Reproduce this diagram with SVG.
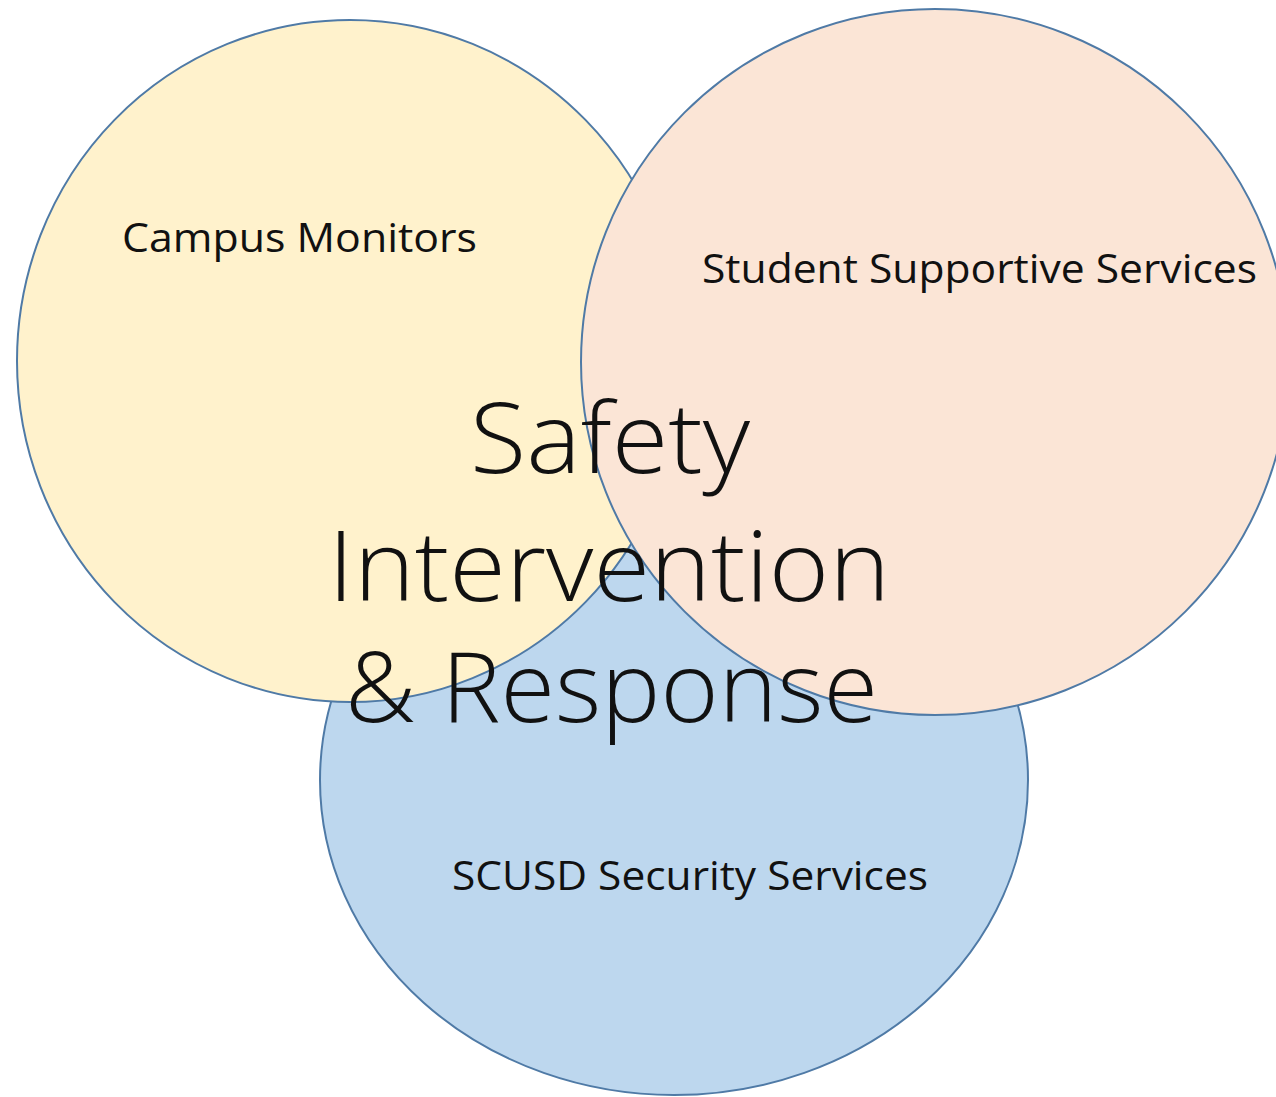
<svg xmlns="http://www.w3.org/2000/svg" width="1276" height="1097" viewBox="0 0 1276 1097">
  <style>
    .c { stroke: #4f7aa6; stroke-width: 2; }
    .lbl { font-family: "Open Sans", "Liberation Sans", sans-serif; font-size: 40px; fill: #111; }
    .big { font-family: "Open Sans", "Liberation Sans", sans-serif; font-weight: 300; font-size: 98px; fill: #111; }
  </style>
  <rect width="1276" height="1097" fill="#ffffff"/>
  <g id="scusd-security">
    <ellipse class="c" cx="674" cy="780" rx="354" ry="315" fill="#bdd7ee"/>
  </g>
  <g id="campus-monitors">
    <ellipse class="c" cx="350" cy="361" rx="333" ry="341" fill="#fff2cc"/>
  </g>
  <g id="student-supportive">
    <ellipse class="c" cx="935" cy="362" rx="354" ry="353" fill="#fbe5d6"/>
  </g>
  <g id="labels">
    <text class="lbl" x="122" y="252" textLength="355" lengthAdjust="spacingAndGlyphs">Campus Monitors</text>
    <text class="lbl" x="702" y="283" textLength="555" lengthAdjust="spacingAndGlyphs">Student Supportive Services</text>
    <text class="lbl" x="452" y="890" textLength="476" lengthAdjust="spacingAndGlyphs">SCUSD Security Services</text>
  </g>
  <g id="center-title">
    <text class="big" x="470" y="473" textLength="280" lengthAdjust="spacingAndGlyphs">Safety</text>
    <text class="big" x="328" y="601" textLength="562" lengthAdjust="spacingAndGlyphs">Intervention</text>
    <text class="big" x="345" y="722" textLength="533" lengthAdjust="spacingAndGlyphs">&amp; Response</text>
  </g>
</svg>
